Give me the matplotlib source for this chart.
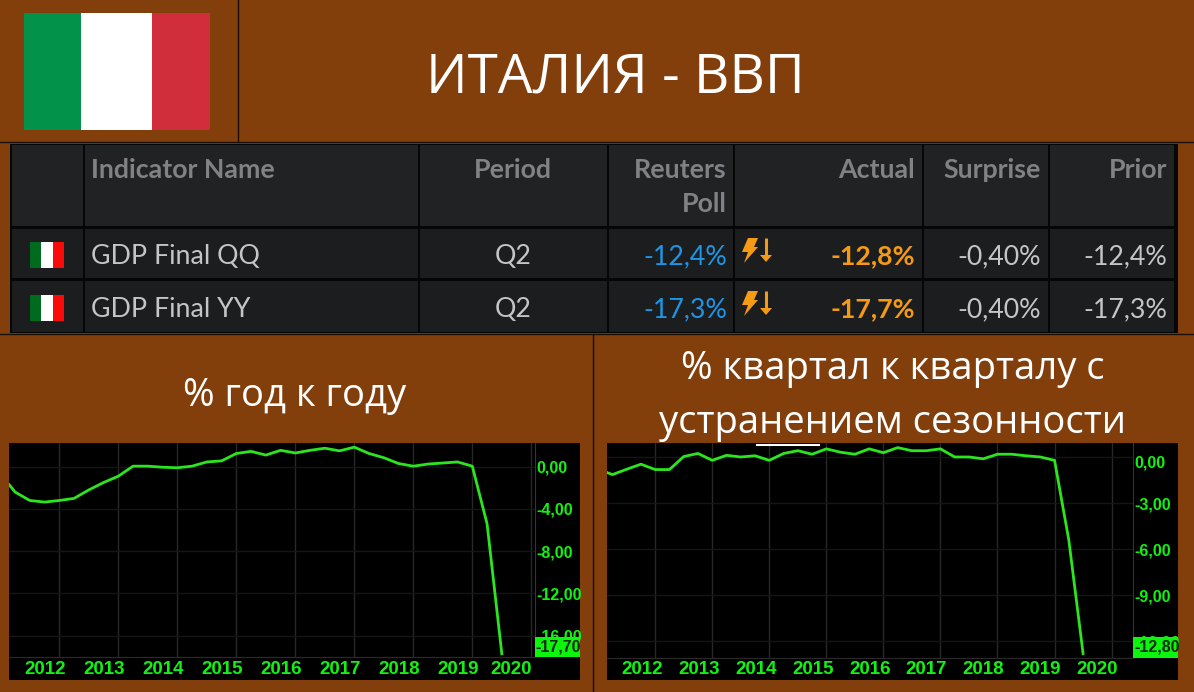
import matplotlib
matplotlib.use('Agg')
import matplotlib.pyplot as plt
from matplotlib.lines import Line2D
from matplotlib.patches import Rectangle, Polygon
from matplotlib.transforms import ScaledTranslation

BROWN = '#823f0c'
GREEN = '#12f212'
W, H = 1194, 692

# left chart, % y/y
yy_dates = [2011.15, 2011.25, 2011.5, 2011.75, 2012, 2012.25, 2012.5, 2012.75, 2013, 2013.25, 2013.5, 2013.75,
            2014, 2014.25, 2014.5, 2014.75, 2015, 2015.25, 2015.5, 2015.75, 2016, 2016.25, 2016.5, 2016.75,
            2017, 2017.25, 2017.5, 2017.75, 2018, 2018.25, 2018.5, 2018.75, 2019, 2019.25, 2019.5]
yy_values = [-1.7, -2.4, -3.2, -3.35, -3.2, -3.0, -2.2, -1.5, -0.9, 0.05, 0.05, -0.05,
             -0.1, 0.05, 0.45, 0.55, 1.25, 1.45, 1.1, 1.55, 1.3, 1.55, 1.75, 1.5,
             1.85, 1.25, 0.85, 0.3, 0.05, 0.25, 0.35, 0.45, 0.05, -5.4, -17.7]
yy_ticks = [0, -4, -8, -12, -16]
yy_labels = ['0,00', '-4,00', '-8,00', '-12,00', '-16,00']

# right chart, % q/q
qq_dates = [2011.16, 2011.25, 2011.5, 2011.75, 2012, 2012.25, 2012.5, 2012.75, 2013, 2013.25, 2013.5, 2013.75,
            2014, 2014.25, 2014.5, 2014.75, 2015, 2015.25, 2015.5, 2015.75, 2016, 2016.25, 2016.5, 2016.75,
            2017, 2017.25, 2017.5, 2017.75, 2018, 2018.25, 2018.5, 2018.75, 2019, 2019.25, 2019.5]
qq_values = [-1.0, -1.13, -0.78, -0.45, -0.8, -0.8, 0.05, 0.25, -0.2, 0.13, 0.02, 0.1,
             -0.2, 0.25, 0.43, 0.2, 0.55, 0.33, 0.2, 0.55, 0.3, 0.63, 0.43, 0.43,
             0.55, 0.02, 0.02, -0.1, 0.2, 0.2, 0.1, 0.02, -0.2, -5.4, -12.8]
qq_ticks = [0, -3, -6, -9, -12]
qq_labels = ['0,00', '-3,00', '-6,00', '-9,00', '-12,00']

years = [2012, 2013, 2014, 2015, 2016, 2017, 2018, 2019, 2020]

# table
columns = ['Indicator Name', 'Period', 'Reuters', 'Poll', 'Actual', 'Surprise', 'Prior']
indicators = ['GDP Final QQ', 'GDP Final YY']
periods = ['Q2', 'Q2']
polls = ['-12,4%', '-17,3%']
actuals = ['-12,8%', '-17,7%']
surprises = ['-0,40%', '-0,40%']
priors = ['-12,4%', '-17,3%']

fig = plt.figure(figsize=(W / 100, H / 100), dpi=100, facecolor=BROWN)
bg = fig.add_axes([0, 0, 1, 1])
bg.set_xlim(0, W)
bg.set_ylim(H, 0)
bg.axis('off')


def box(x0, y0, x1, y1, color, z=1):
    bg.add_patch(Rectangle((x0, y0), x1 - x0, y1 - y0, color=color, lw=0, zorder=z))


# header
box(24, 13, 81, 130, '#03924a', 3)
box(81, 13, 152, 130, '#ffffff', 3)
box(152, 13, 210, 130, '#cf2e3a', 3)
bg.plot([0, W], [142, 142], color='#1a0e04', lw=1)
bg.plot([238, 238], [0, 142], color='#1a0e04', lw=1)
bg.text(615, 78, 'ИТАЛИЯ - ВВП', color='white', fontsize=39.5, family='Open Sans', ha='center', va='center')

# table
box(10, 144, 1178, 333, '#060606')
col_x = [(12, 82.5), (84.5, 418), (420, 607), (609, 733), (735, 921.5), (923.5, 1047.5), (1049.5, 1174)]
row_y = [(145, 226), (228.5, 278), (281, 332)]
for k, (y0, y1) in enumerate(row_y):
    for x0, x1 in col_x:
        box(x0, y0, x1, y1, '#212224' if k == 0 else '#1c1d1f', 2)

HEAD = '#818285'
TXT = '#c4c5c7'
ORANGE = '#f59a14'
tf = dict(family='Lato', fontsize=19.3, va='center', zorder=4)
bg.text(91, 170, columns[0], color=HEAD, weight='bold', ha='left', **tf)
bg.text(513, 170, columns[1], color=HEAD, weight='bold', ha='center', **tf)
bg.text(727, 170, columns[2], color=HEAD, weight='bold', ha='right', **tf)
bg.text(727, 204, columns[3], color=HEAD, weight='bold', ha='right', **tf)
bg.text(915, 170, columns[4], color=HEAD, weight='bold', ha='right', **tf)
bg.text(1041, 170, columns[5], color=HEAD, weight='bold', ha='right', **tf)
bg.text(1167, 170, columns[6], color=HEAD, weight='bold', ha='right', **tf)

for i, yc in enumerate([255, 308]):
    box(30, yc - 13, 41, yc + 13, '#006a1e', 3)
    box(41, yc - 13, 53, yc + 13, '#ffffff', 3)
    box(53, yc - 13, 64, yc + 13, '#fb0a0a', 3)
    ty = yc + 1.5
    bg.text(91, ty, indicators[i], color=TXT, ha='left', **tf)
    bg.text(513, ty, periods[i], color=TXT, ha='center', **tf)
    bg.text(727, ty, polls[i], color='#1e96e6', ha='right', **tf)
    bg.text(915, ty, actuals[i], color=ORANGE, weight='bold', ha='right', **tf)
    bg.text(1041, ty, surprises[i], color=TXT, ha='right', **tf)
    bg.text(1167, ty, priors[i], color=TXT, ha='right', **tf)
    # lightning and arrow icon
    ic = yc - 4
    bg.add_patch(Polygon([(748, ic - 13), (758, ic - 13), (754, ic - 4), (758, ic - 4), (744, ic + 12),
                          (748, ic + 1), (742, ic + 1)], color=ORANGE, lw=0, zorder=4))
    bg.plot([766, 766], [ic - 13, ic + 6], color=ORANGE, lw=2.2, zorder=4, solid_capstyle='butt')
    bg.add_patch(Polygon([(760, ic + 4), (772, ic + 4), (766, ic + 11)], color=ORANGE, lw=0, zorder=4))

# section titles
bg.plot([0, W], [334, 334], color='#1a0e04', lw=1)
bg.plot([593, 593], [334, H], color='#1a0e04', lw=1)
sf = dict(color='white', family='Open Sans', fontsize=27.5, ha='center', va='center')
bg.text(295, 396, '% год к году', **sf)
bg.text(893, 368.5, '% квартал к кварталу с', **sf)
bg.text(893, 423.5, 'устранением сезонности', **sf)


def chart(panel, plot_right, plot_bottom, x2012, px_year, y0_px, px_unit, dates, values, ticks, labels,
          last_label, label_xs, zero_shift=0):
    x0, y0, x1, y1 = panel
    box(x0, y0, x1, y1, 'black')
    ax = fig.add_axes([x0 / W, 1 - plot_bottom / H, (plot_right - x0) / W, (plot_bottom - y0) / H], facecolor='black')
    ax.set_xlim(2012 + (x0 - x2012) / px_year, 2012 + (plot_right - x2012) / px_year)
    ax.set_ylim((y0_px - plot_bottom) / px_unit, (y0_px - y0) / px_unit)
    ax.yaxis.tick_right()
    ax.set_yticks(ticks)
    ax.set_yticklabels(labels, color=GREEN, family='Liberation Sans', fontsize=11.5, weight='bold')
    ax.set_xticks([v for v in years if v < ax.get_xlim()[1]])
    ax.tick_params(length=0, labelbottom=False, pad=1)
    ax.grid(axis='x', color='#282828', lw=1)
    ax.grid(axis='y', color='#151515', lw=1)
    ax.set_axisbelow(True)
    for s in ['top', 'left']:
        ax.spines[s].set_visible(False)
    ax.spines['right'].set_color('#333333')
    ax.spines['bottom'].set_color('#2a2a2a')
    ax.plot(dates, values, color='#2be61e', lw=2, solid_joinstyle='round', zorder=3)
    # the zero label is pushed down when it would hit the top edge
    if zero_shift:
        lab = ax.get_yticklabels()[0]
        lab.set_transform(lab.get_transform() + ScaledTranslation(0, -zero_shift / 100, fig.dpi_scale_trans))
    # year labels sit left of their gridlines
    for yr, lx in zip(years, label_xs):
        bg.text(lx, 670, str(yr), color=GREEN, family='Liberation Sans', fontsize=13.5, weight='bold',
                ha='center', va='center', zorder=5)
    # last value tag, drawn above the tick labels
    fig.add_artist(Rectangle((plot_right / W, 1 - plot_bottom / H), (x1 - plot_right) / W, 20.5 / H,
                             transform=fig.transFigure, color='#0cf50c', lw=0, zorder=10))
    fig.text((plot_right + 1) / W, 1 - (plot_bottom - 10) / H, last_label, color='#0a2a0a', family='Liberation Sans',
             fontsize=11.5, weight='bold', ha='left', va='center', zorder=11)
    return ax


chart((9, 443, 580, 680), 534.6, 657.3, 59.3, 59, 466.7, 10.56, yy_dates, yy_values, yy_ticks, yy_labels, '-17,70',
      [45, 104, 163, 222, 281, 340, 399, 458, 511])
chart((607, 443, 1178, 680), 1133, 657.5, 655.2, 57.05, 457.3, 15.33, qq_dates, qq_values, qq_ticks, qq_labels, '-12,80',
      [642, 699, 756, 813, 870, 926, 983, 1040, 1097], zero_shift=4)
fig.add_artist(Line2D([757 / W, 819 / W], [1 - 444.5 / H, 1 - 444.5 / H], color='white', lw=1.5, zorder=12))

fig.savefig('out.png', dpi=100, facecolor=BROWN)
